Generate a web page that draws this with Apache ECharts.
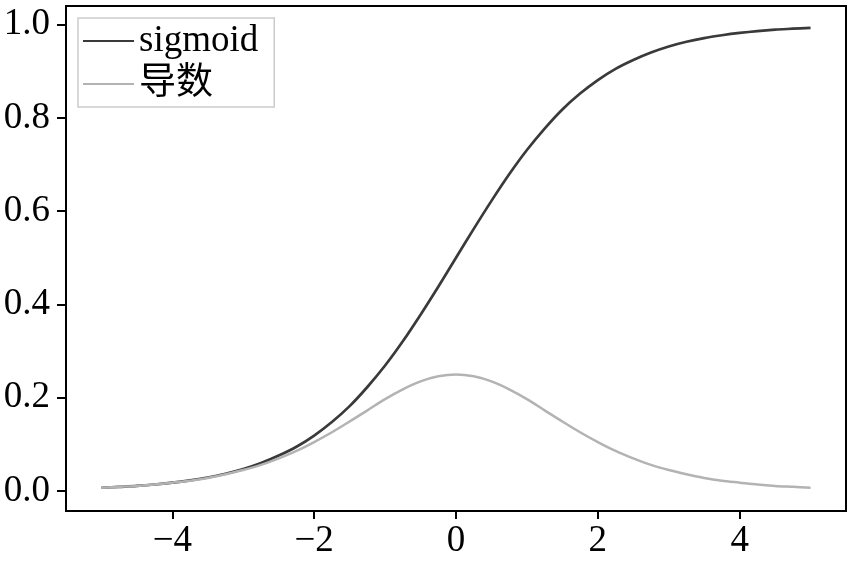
<!DOCTYPE html>
<html>
<head>
<meta charset="utf-8">
<script src="https://cdn.jsdelivr.net/npm/echarts@6/dist/echarts.min.js"></script>
<style>html,body{margin:0;padding:0;background:#fff}#c{width:852px;height:562px}</style>
</head>
<body>
<div id="c"></div>
<script>
const xValues = [-5,-4.75,-4.5,-4.25,-4,-3.75,-3.5,-3.25,-3,-2.75,-2.5,-2.25,-2,-1.75,-1.5,-1.25,-1,-0.75,-0.5,-0.25,0,0.25,0.5,0.75,1,1.25,1.5,1.75,2,2.25,2.5,2.75,3,3.25,3.5,3.75,4,4.25,4.5,4.75,5];
const sigmoidValues = [0.007,0.009,0.011,0.014,0.018,0.023,0.029,0.037,0.047,0.060,0.076,0.095,0.119,0.148,0.182,0.223,0.269,0.321,0.378,0.438,0.5,0.562,0.622,0.679,0.731,0.777,0.818,0.852,0.881,0.905,0.924,0.940,0.953,0.963,0.971,0.977,0.982,0.986,0.989,0.991,0.993];
const derivativeValues = [0.007,0.009,0.011,0.014,0.018,0.022,0.028,0.036,0.045,0.056,0.070,0.086,0.105,0.126,0.149,0.173,0.197,0.218,0.235,0.246,0.25,0.246,0.235,0.218,0.197,0.173,0.149,0.126,0.105,0.086,0.070,0.056,0.045,0.036,0.028,0.022,0.018,0.014,0.011,0.009,0.007];
const xTicks = [-4,-2,0,2,4];
const yTicks = [0,0.2,0.4,0.6,0.8,1.0];
const seriesNames = ['sigmoid','导数'];

const font = '"Liberation Serif","Times New Roman","Noto Sans CJK SC",serif';
const chart = echarts.init(document.getElementById('c'));
chart.setOption({
  animation:false,
  grid:{left:66,right:6,top:6,bottom:51,show:true,borderColor:'#000',borderWidth:2,backgroundColor:'transparent'},
  xAxis:{type:'value',min:-5.5,max:5.5,
    axisLine:{show:true,onZero:false,lineStyle:{color:'#000',width:2}},
    axisTick:{show:true,length:8,lineStyle:{color:'#000',width:2},customValues:xTicks},
    axisLabel:{customValues:xTicks,margin:12,color:'#000',fontFamily:font,fontSize:37,
      formatter:v=>String(v).replace('-','\u2212')},
    splitLine:{show:false}},
  yAxis:{type:'value',min:-0.0428,max:1.0397,
    axisLine:{show:true,onZero:false,lineStyle:{color:'#000',width:2}},
    axisTick:{show:true,length:9,lineStyle:{color:'#000',width:2},customValues:yTicks},
    axisLabel:{customValues:yTicks,margin:16,color:'#000',fontFamily:font,fontSize:37,
      formatter:v=>v.toFixed(1)},
    splitLine:{show:false}},
  legend:{orient:'vertical',left:78,top:18,padding:[3,16,3,4],itemGap:3,itemWidth:51,itemHeight:14,
    borderColor:'#cccccc',borderWidth:1.5,borderRadius:0,backgroundColor:'#fff',
    itemStyle:{opacity:0},
    textStyle:{fontFamily:font,fontSize:37,lineHeight:40,color:'#000'},
    data:seriesNames},
  series:[
    {name:seriesNames[0],type:'line',symbol:'none',smooth:0.3,data:xValues.map((x,i)=>[x,sigmoidValues[i]]),
      lineStyle:{color:'#3a3a3a',width:2.7},itemStyle:{color:'#3a3a3a'}},
    {name:seriesNames[1],type:'line',symbol:'none',smooth:0.3,data:xValues.map((x,i)=>[x,derivativeValues[i]]),
      lineStyle:{color:'#b3b3b3',width:2.5},itemStyle:{color:'#b3b3b3'}}
  ]
});
</script>
</body>
</html>
